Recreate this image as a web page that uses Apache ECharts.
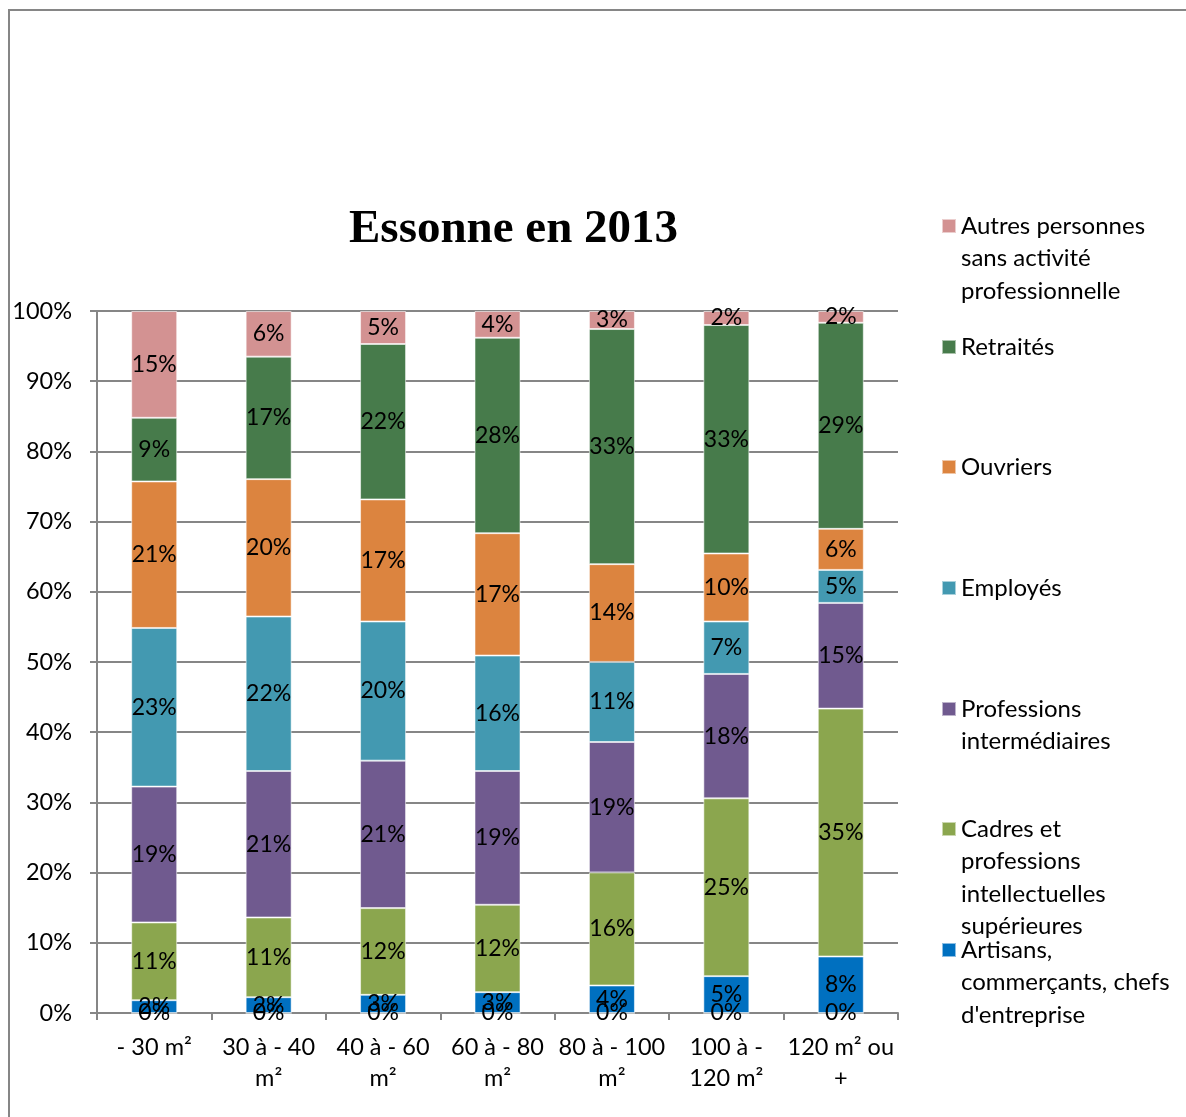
<!DOCTYPE html>
<html>
<head>
<meta charset="utf-8">
<script src="https://cdn.jsdelivr.net/npm/echarts@6/dist/echarts.min.js"></script>
<style>
html,body{margin:0;padding:0;background:#fff;}
#chart{width:1186px;height:1117px;}
</style>
</head>
<body>
<div id="chart"></div>
<script>
// ---- data ----
var categories = ['- 30 m²', '30 à - 40\nm²', '40 à - 60\nm²', '60 à - 80\nm²', '80 à - 100\nm²', '100 à -\n120 m²', '120 m² ou\n+'];
var agriculteurs = [0, 0, 0, 0, 0, 0, 0];
var artisans = [1.82, 2.25, 2.59, 2.97, 3.92, 5.25, 8.05];
var cadres = [11.08, 11.36, 12.35, 12.45, 16.11, 25.33, 35.31];
var professionsInter = [19.35, 20.86, 21.01, 19.05, 18.57, 17.72, 15.06];
var employes = [22.60, 22.01, 19.82, 16.45, 11.41, 7.47, 4.70];
var ouvriers = [20.87, 19.57, 17.39, 17.43, 13.93, 9.69, 5.85];
var retraites = [9.07, 17.45, 22.14, 27.84, 33.49, 32.54, 29.36];
var autres = [15.21, 6.49, 4.70, 3.81, 2.57, 2.00, 1.67];
var yTicks = [0, 10, 20, 30, 40, 50, 60, 70, 80, 90, 100];

var names = {
  agri: 'Agriculteurs exploitants',
  art: "Artisans, commerçants, chefs d'entreprise",
  cad: 'Cadres et professions intellectuelles supérieures',
  pro: 'Professions intermédiaires',
  emp: 'Employés',
  ouv: 'Ouvriers',
  ret: 'Retraités',
  aut: 'Autres personnes sans activité professionnelle'
};
var wrapped = {};
wrapped[names.aut] = 'Autres personnes\nsans activité\nprofessionnelle';
wrapped[names.ret] = 'Retraités';
wrapped[names.ouv] = 'Ouvriers';
wrapped[names.emp] = 'Employés';
wrapped[names.pro] = 'Professions\nintermédiaires';
wrapped[names.cad] = 'Cadres et\nprofessions\nintellectuelles\nsupérieures';
wrapped[names.art] = 'Artisans,\ncommerçants, chefs\nd\'entreprise';

var colors = {};
colors[names.agri] = '#4F81BD';
colors[names.art] = '#0070C0';
colors[names.cad] = '#8BA64E';
colors[names.pro] = '#705A8F';
colors[names.emp] = '#4399B1';
colors[names.ouv] = '#DC843F';
colors[names.ret] = '#477B4B';
colors[names.aut] = '#D39292';

var FONT = 'Lato';
var LH = 32.5;

function mkSeries(name, data) {
  return {
    name: name,
    type: 'bar',
    stack: 'total',
    barWidth: 46,
    data: data,
    itemStyle: { color: colors[name], borderColor: 'rgba(255,255,255,0.55)', borderWidth: 1 },
    label: {
      show: true,
      position: 'inside',
      color: '#000',
      fontFamily: FONT,
      fontSize: 23,
      formatter: function (p) { return Math.round(p.value) + '%'; }
    },
    emphasis: { disabled: true }
  };
}

var legendOrder = [
  [names.aut, 226],
  [names.ret, 347],
  [names.ouv, 467],
  [names.emp, 588],
  [names.pro, 709],
  [names.cad, 829],
  [names.art, 950]
];
var legends = legendOrder.map(function (it) {
  var n = wrapped[it[0]].split('\n').length;
  var blockH = (2 * n - 1) * LH;
  var pre = new Array(n).join('\n'); // (n-1) leading blank lines so the first line sits beside the icon
  return {
    data: [it[0]],
    orient: 'vertical',
    left: 941,
    top: it[1] - blockH / 2,
    padding: 0,
    itemWidth: 14,
    itemHeight: 14,
    icon: 'rect',
    selectedMode: false,
    formatter: function (name) { return pre + wrapped[name]; },
    textStyle: {
      fontFamily: FONT,
      fontSize: 24,
      color: '#000',
      lineHeight: LH
    }
  };
});

var chart = echarts.init(document.getElementById('chart'), null, { renderer: 'canvas' });
chart.setOption({
  animation: false,
  backgroundColor: '#fff',
  title: {
    text: 'Essonne en 2013',
    left: 349,
    top: 206,
    padding: 0,
    textStyle: { fontFamily: 'Liberation Serif', fontWeight: 'bold', fontSize: 47, color: '#000' }
  },
  legend: legends,
  graphic: [{
    type: 'rect',
    shape: { x: 9, y: 10, width: 1300, height: 1300 },
    style: { fill: null, stroke: '#868686', lineWidth: 2 },
    silent: true
  }],
  grid: { left: 97, top: 311, width: 801, height: 702, containLabel: false },
  xAxis: {
    type: 'category',
    data: categories,
    axisLine: { show: true, lineStyle: { color: '#868686', width: 2 } },
    axisTick: { show: true, length: 7, lineStyle: { color: '#868686', width: 2 } },
    axisLabel: { color: '#000', fontFamily: FONT, fontSize: 23.5, lineHeight: 31, margin: 19, interval: 0 }
  },
  yAxis: {
    type: 'value',
    min: yTicks[0],
    max: yTicks[yTicks.length - 1],
    interval: 10,
    axisLine: { show: true, lineStyle: { color: '#868686', width: 2 } },
    axisTick: { show: true, length: 7, lineStyle: { color: '#868686', width: 2 } },
    splitLine: { show: true, lineStyle: { color: '#868686', width: 2 } },
    axisLabel: { color: '#000', fontFamily: FONT, fontSize: 23.5, margin: 25, formatter: '{value}%' }
  },
  series: [
    mkSeries(names.agri, agriculteurs),
    mkSeries(names.art, artisans),
    mkSeries(names.cad, cadres),
    mkSeries(names.pro, professionsInter),
    mkSeries(names.emp, employes),
    mkSeries(names.ouv, ouvriers),
    mkSeries(names.ret, retraites),
    mkSeries(names.aut, autres)
  ]
});
</script>
</body>
</html>
